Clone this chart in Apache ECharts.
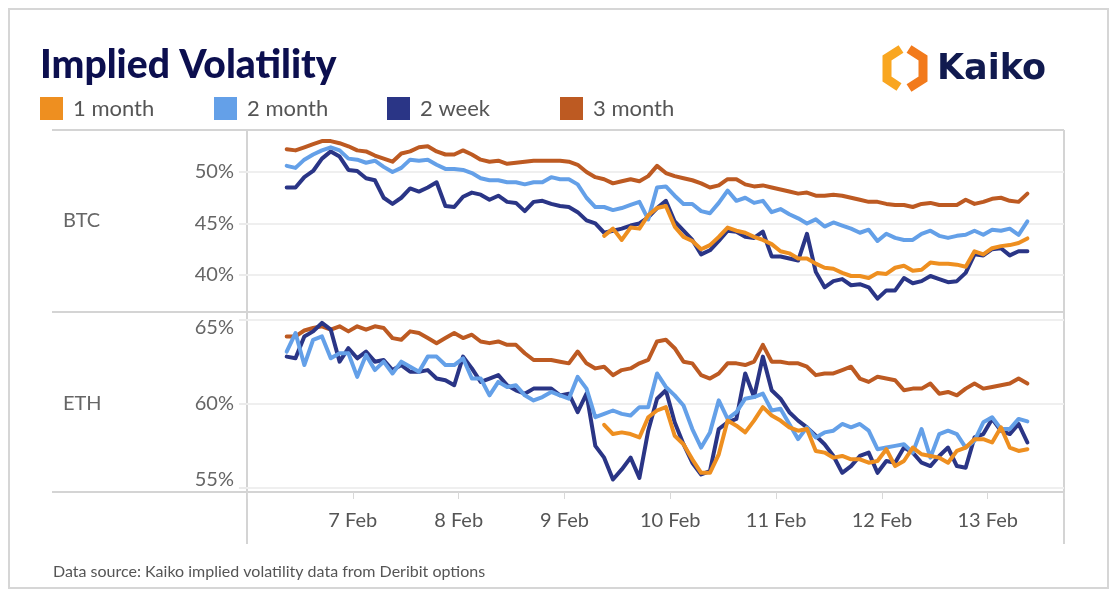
<!DOCTYPE html>
<html><head><meta charset="utf-8">
<script src="https://cdn.jsdelivr.net/npm/echarts@6/dist/echarts.min.js"></script>
<style>html,body{margin:0;padding:0;background:#fff}#c{width:1116px;height:598px}</style>
</head><body><div id="c"></div>
<script>
// ---- data ----
const seriesNames = ['1 month', '2 month', '2 week', '3 month'];
const startHour = 9;          // hours after 6 Feb 00:00
const stepHours = 2;
const oneMonthStartHour = 81; // 1 month series begins later
const xTickLabels = ['', '7 Feb', '8 Feb', '9 Feb', '10 Feb', '11 Feb', '12 Feb', '13 Feb'];
const btcYTicks = [40, 45, 50];
const ethYTicks = [55, 60, 65];

const btc3m = [52.2,52.1,52.4,52.7,53.0,53.0,52.8,52.5,52.1,52.0,
  51.6,51.3,51.0,51.8,52.0,52.4,52.5,52.0,51.7,51.7,
  52.1,51.7,51.2,51.0,51.1,50.8,50.9,51.0,51.1,51.1,
  51.1,51.1,51.0,50.7,50.0,49.5,49.3,48.9,49.1,49.3,
  49.1,49.6,50.6,49.9,49.6,49.4,49.2,48.9,48.5,48.7,
  49.3,49.3,48.8,48.6,48.7,48.5,48.3,48.1,47.9,48.0,
  47.7,47.7,47.8,47.7,47.5,47.3,47.1,47.1,46.9,46.8,
  46.8,46.6,46.9,47.0,46.8,46.8,46.8,47.3,46.9,47.1,
  47.4,47.5,47.2,47.1,47.9];
const btc2m = [50.6,50.4,51.2,51.7,52.1,52.4,52.1,51.3,51.2,50.9,
  51.1,50.5,50.0,50.4,51.2,51.1,51.2,50.7,50.3,50.3,
  50.2,49.9,49.4,49.2,49.2,49.0,49.0,48.8,49.0,49.0,
  49.5,49.3,49.3,48.8,47.5,46.6,46.6,46.3,46.5,46.8,
  47.1,45.4,48.5,48.6,47.7,46.9,46.9,46.2,46.0,47.0,
  48.2,47.2,47.5,47.0,47.2,46.1,46.4,45.9,45.5,45.0,
  45.4,44.7,45.1,44.8,44.5,44.1,44.4,43.3,44.0,43.6,
  43.4,43.4,44.0,44.3,43.8,43.6,43.8,43.9,44.3,43.9,
  44.4,44.3,44.5,43.9,45.2];
const btc2w = [48.5,48.5,49.5,50.1,51.3,52.0,51.5,50.2,50.1,49.4,
  49.2,47.5,46.9,47.5,48.4,48.1,48.5,49.0,46.7,46.6,
  47.6,48.0,47.8,47.3,47.7,47.1,47.0,46.2,47.1,47.2,
  46.9,46.7,46.6,46.1,45.3,45.0,44.1,44.3,44.5,44.8,
  45.0,45.6,46.5,47.2,45.2,44.3,43.4,42.0,42.4,43.3,
  44.3,44.2,43.7,43.6,44.2,41.8,41.8,41.6,41.4,44.0,
  40.3,38.8,39.4,39.6,39.0,39.1,38.8,37.7,38.5,38.5,
  39.7,39.2,39.4,39.9,39.6,39.3,39.4,40.2,42.0,41.9,
  42.5,42.6,41.9,42.3,42.3];
const btc1m = [43.8,44.5,43.4,44.6,44.5,45.8,46.5,46.7,44.7,43.7,
  43.3,42.5,42.9,43.7,44.6,44.3,44.1,43.7,43.4,43.0,
  42.3,42.1,41.6,41.6,41.1,40.7,40.6,40.2,39.9,39.9,
  39.7,40.2,40.1,40.7,40.9,40.4,40.5,41.2,41.1,41.1,
  41.0,40.8,42.3,42.0,42.6,42.8,42.9,43.1,43.55];

const eth3m = [64.0,64.0,64.35,64.5,64.6,64.4,64.6,64.3,64.6,64.4,
  64.6,64.5,63.9,63.8,64.3,64.2,63.9,63.6,63.9,64.2,
  63.9,64.1,63.7,63.6,63.7,63.5,63.5,63.0,62.6,62.6,
  62.6,62.5,62.4,63.1,62.4,62.1,62.2,61.7,62.0,62.1,
  62.4,62.6,63.7,63.8,63.3,62.5,62.4,61.7,61.5,61.8,
  62.4,62.4,62.3,62.5,63.5,62.5,62.5,62.4,62.4,62.2,
  61.7,61.8,61.8,62.0,62.2,61.5,61.3,61.6,61.5,61.4,
  60.8,60.9,60.9,61.2,60.6,60.7,60.5,60.9,61.2,60.9,
  61.0,61.1,61.2,61.5,61.2];
const eth2m = [63.1,64.2,62.3,63.8,64.0,62.7,63.0,63.0,61.6,62.9,
  62.0,62.5,61.8,62.5,62.2,61.9,62.8,62.8,62.3,62.3,
  62.7,61.5,61.5,60.5,61.3,61.0,61.1,60.5,60.2,60.4,
  60.7,60.5,60.3,61.6,60.9,59.2,59.4,59.6,59.4,59.3,
  59.8,59.8,61.8,61.0,60.5,59.9,58.5,57.4,58.3,60.2,
  59.1,59.5,60.3,60.4,60.6,59.6,59.7,58.8,57.9,58.6,
  58.0,58.3,58.4,58.8,58.6,58.8,58.4,57.3,57.4,57.5,
  57.6,57.1,58.5,56.8,58.2,58.4,58.2,57.4,57.8,58.9,
  59.2,58.5,58.5,59.1,58.95];
const eth2w = [62.8,62.7,64.0,64.3,64.8,64.4,62.5,63.3,62.7,63.1,
  62.5,62.6,62.0,62.3,61.9,61.9,62.0,61.5,61.4,61.1,
  62.8,62.1,61.3,61.5,61.7,61.1,60.8,60.6,60.9,60.9,
  60.9,60.5,60.6,59.5,60.6,57.5,56.8,55.5,56.1,56.8,
  55.6,58.4,60.3,60.8,58.9,57.6,56.5,55.8,56.0,58.5,
  58.9,59.1,61.8,60.4,62.8,60.8,60.3,59.5,59.0,58.6,
  58.1,57.6,56.9,55.9,56.3,56.9,57.1,55.9,56.6,56.5,
  57.4,57.1,56.5,56.3,56.9,57.4,56.3,56.2,58.0,58.2,
  59.1,58.4,58.2,58.8,57.7];
const eth1m = [58.75,58.2,58.3,58.2,58.0,59.2,59.6,59.8,58.1,57.6,
  56.7,55.9,55.9,57.0,59.0,58.7,58.3,59.0,59.8,59.3,
  59.0,58.6,58.4,58.5,57.2,57.1,56.8,56.9,56.7,56.7,
  56.5,56.6,57.3,56.3,56.6,57.4,57.0,56.9,56.8,56.5,
  57.2,57.4,57.9,57.9,57.7,58.6,57.4,57.2,57.3];

// ---- style ----
const colors = {'1 month': '#ee8f20', '2 month': '#64a0e8', '2 week': '#2a3586', '3 month': '#bd5a22'};
const FONT = 'Lato';
const borderColor = '#d4d4d4';

function pts(arr, start) { return arr.map((v, i) => [start + i * stepHours, v]); }
function line(name, arr, start, gi) {
  return {
    name: name, type: 'line', xAxisIndex: gi, yAxisIndex: gi,
    data: pts(arr, start), symbol: 'none', smooth: false,
    lineStyle: {width: 4, color: colors[name], join: 'round', cap: 'round'},
    itemStyle: {color: colors[name]}, emphasis: {disabled: true}, animation: false
  };
}

const chart = echarts.init(document.getElementById('c'), null, {renderer: 'canvas'});
const legendLefts = [40, 214, 387, 560];
const option = {
  animation: false,
  backgroundColor: '#ffffff',
  title: {
    text: 'Implied Volatility', left: 40, top: 46, padding: 0,
    textStyle: {fontFamily: FONT, fontWeight: 900, fontSize: 39, color: '#0c0f4f'}
  },
  legend: seriesNames.map((n, k) => ({
    left: legendLefts[k], top: 97, padding: 0, itemWidth: 23, itemHeight: 23,
    icon: 'rect', selectedMode: false, data: [n],
    textStyle: {fontFamily: FONT, fontSize: 22, color: '#555', padding: [0, 0, 0, 5]}
  })),
  grid: [
    {left: 247, right: 52, top: 130, height: 181},
    {left: 247, right: 52, top: 312, height: 180}
  ],
  xAxis: [0, 1].map(gi => ({
    type: 'value', gridIndex: gi, min: 0, max: 185.3, interval: 24,
    show: gi === 1,
    axisLine: {show: false},
    axisTick: {show: true, length: 7, lineStyle: {color: '#d8d8d8', width: 1}},
    splitLine: {show: false},
    axisLabel: {
      show: gi === 1, margin: 19, fontFamily: FONT, fontSize: 20, color: '#555',
      formatter: v => xTickLabels[Math.round(v / 24)] || ''
    }
  })),
  yAxis: [
    {
      type: 'value', gridIndex: 0, min: 36.5, max: 54.08,
      axisLine: {show: false},
      axisTick: {show: true, customValues: btcYTicks, length: 8, lineStyle: {color: '#ebebeb', width: 2}},
      splitLine: {show: true, lineStyle: {color: '#efefef', width: 2}},
      axisLabel: {customValues: btcYTicks, margin: 13, fontFamily: FONT, fontSize: 20, color: '#666', formatter: v => v + '%'}
    },
    {
      type: 'value', gridIndex: 1, min: 54.76, max: 65.45,
      axisLine: {show: false},
      axisTick: {show: true, customValues: ethYTicks, length: 8, lineStyle: {color: '#ebebeb', width: 2}},
      splitLine: {show: true, lineStyle: {color: '#efefef', width: 2}},
      axisLabel: {
        customValues: ethYTicks, margin: 13, fontFamily: FONT, fontSize: 20, color: '#666',
        formatter: v => v === 65 ? '{dn|65%}' : (v === 55 ? '{up|55%}' : '{m|' + v + '%}'),
        rich: {
          dn: {padding: [16, 0, 0, 0], fontFamily: FONT, fontSize: 20, color: '#666'},
          up: {padding: [0, 0, 17, 0], fontFamily: FONT, fontSize: 20, color: '#666'},
          m: {fontFamily: FONT, fontSize: 20, color: '#666'}
        }
      }
    }
  ],
  graphic: [
    {type: 'rect', shape: {x: 9, y: 9, width: 1099, height: 579}, style: {fill: 'none', stroke: '#d6d6d6', lineWidth: 2}, silent: true},
    {type: 'line', shape: {x1: 52, y1: 130, x2: 1064, y2: 130}, style: {stroke: borderColor, lineWidth: 2}, silent: true},
    {type: 'line', shape: {x1: 52, y1: 312, x2: 1064, y2: 312}, style: {stroke: borderColor, lineWidth: 2}, silent: true},
    {type: 'line', shape: {x1: 52, y1: 492, x2: 1064, y2: 492}, style: {stroke: borderColor, lineWidth: 2}, silent: true},
    {type: 'line', shape: {x1: 247, y1: 130, x2: 247, y2: 544}, style: {stroke: borderColor, lineWidth: 2}, silent: true},
    {type: 'line', shape: {x1: 1064, y1: 130, x2: 1064, y2: 544}, style: {stroke: borderColor, lineWidth: 2}, silent: true},
    {type: 'text', x: 63, y: 221, style: {text: 'BTC', fontFamily: FONT, fontSize: 20, fill: '#666', verticalAlign: 'middle'}, silent: true},
    {type: 'text', x: 63, y: 404, style: {text: 'ETH', fontFamily: FONT, fontSize: 20, fill: '#666', verticalAlign: 'middle'}, silent: true},
    {type: 'text', x: 53, y: 572, style: {text: 'Data source: Kaiko implied volatility data from Deribit options', fontFamily: FONT, fontSize: 16, fill: '#555', verticalAlign: 'middle'}, silent: true},
    // logo
    {type: 'polyline', shape: {points: [[901, 49], [887, 58], [887, 79], [899, 87]]}, style: {stroke: '#f9a620', lineWidth: 9, fill: 'none', lineJoin: 'miter'}, silent: true},
    {type: 'polyline', shape: {points: [[909, 49], [923, 58], [923, 79], [909, 88]]}, style: {stroke: '#f27a1c', lineWidth: 9, fill: 'none', lineJoin: 'miter'}, silent: true},
    {type: 'text', x: 937, y: 70, style: {text: 'Kaiko', fontFamily: 'DejaVu Sans', fontWeight: 'bold', fontSize: 35, fill: '#111a4f', verticalAlign: 'middle'}, silent: true}
  ],
  series: [
    line('3 month', btc3m, startHour, 0),
    line('2 week', btc2w, startHour, 0),
    line('2 month', btc2m, startHour, 0),
    line('1 month', btc1m, oneMonthStartHour, 0),
    line('3 month', eth3m, startHour, 1),
    line('2 week', eth2w, startHour, 1),
    line('2 month', eth2m, startHour, 1),
    line('1 month', eth1m, oneMonthStartHour, 1)
  ]
};
chart.setOption(option);
</script>
</body></html>
